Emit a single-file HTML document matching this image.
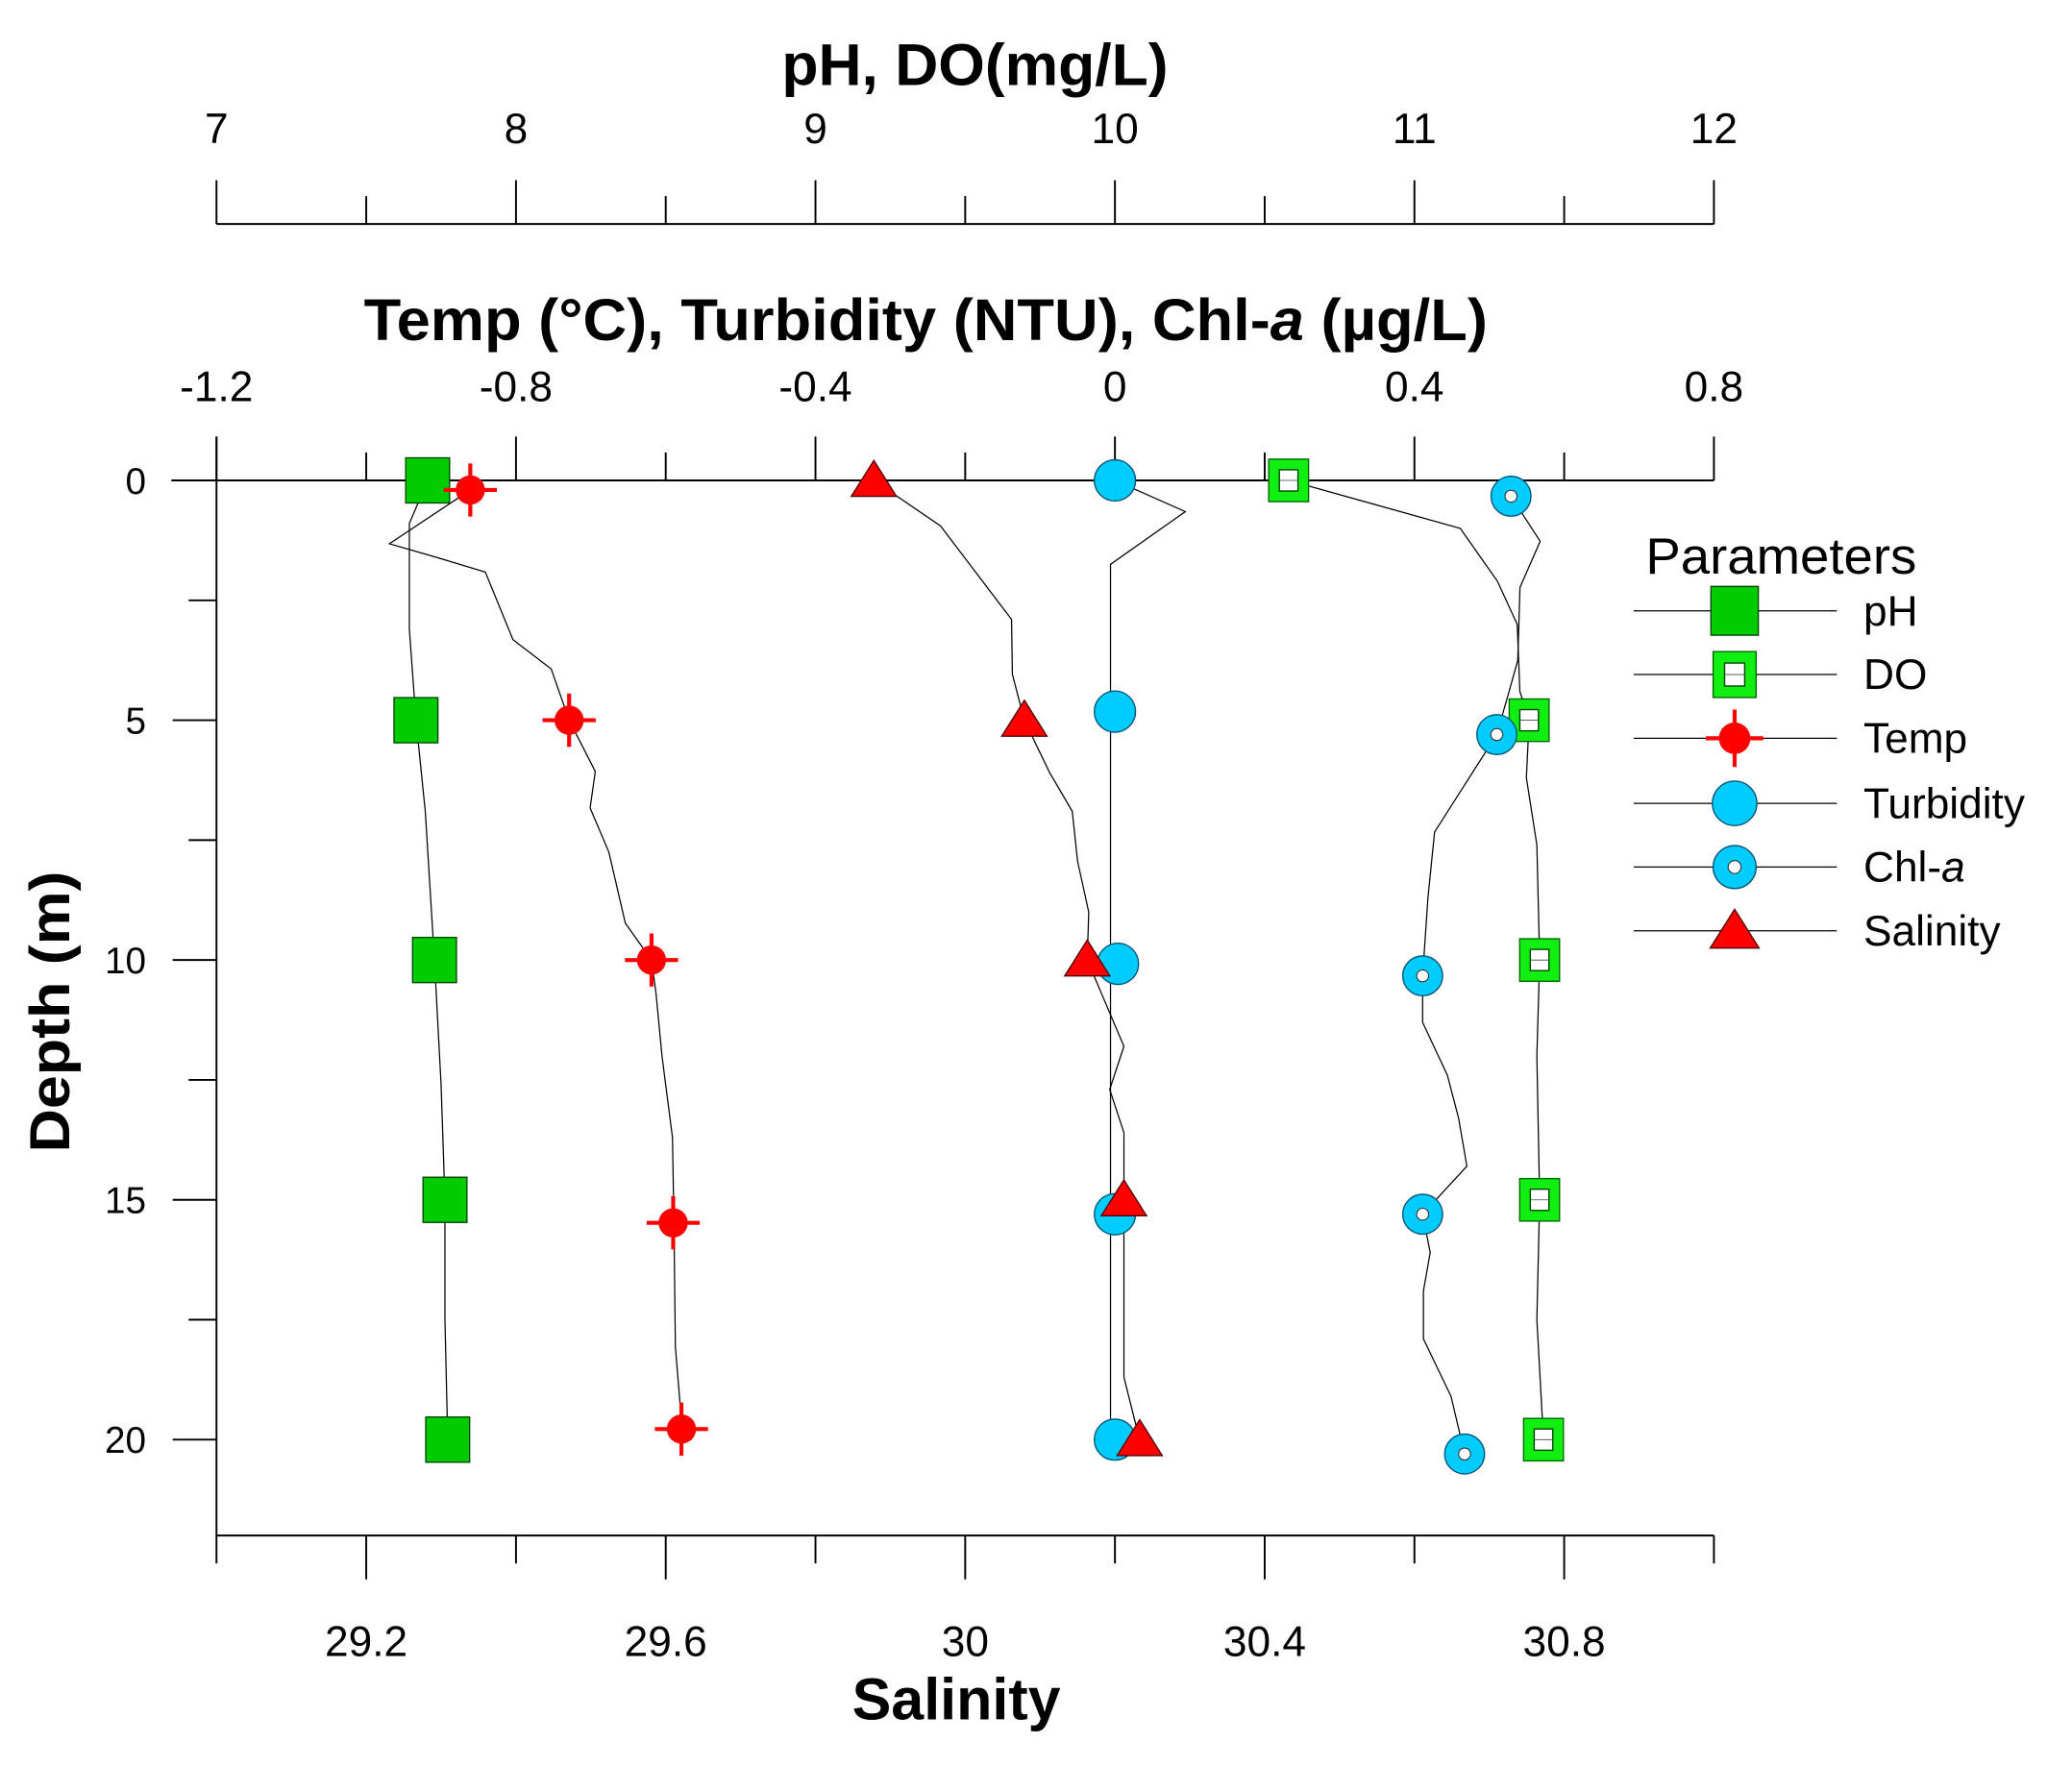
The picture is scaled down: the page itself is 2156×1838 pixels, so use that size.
<!DOCTYPE html>
<html><head><meta charset="utf-8"><style>
html,body{margin:0;padding:0;background:#fff;}
svg{display:block;}
text{font-family:"Liberation Sans",Arial,sans-serif;fill:#000;}
</style></head><body>
<svg id="chart" width="2156" height="1838" viewBox="0 0 1560 1330" preserveAspectRatio="none" xmlns="http://www.w3.org/2000/svg">
<g id="axes"></g>
<g id="lines"></g>
<g id="marks"></g>
<g id="legend"></g>
</svg>
<script>
// ---- data ----
const markerDepths = [0, 5, 10, 15, 20];
const phValues = [7.705, 7.666, 7.728, 7.763, 7.772];
const doValues = [10.58, 11.383, 11.418, 11.418, 11.431];
const tempDepths = [0.2, 5, 10, 15.48, 19.78];
const tempValues = [-0.861, -0.729, -0.619, -0.590, -0.579];
const turbDepths = [0, 4.82, 10.08, 15.3, 20];
const turbValues = [0, 0, 0.004, 0, 0];
const chlDepths = [0.33, 5.3, 10.33, 15.3, 20.3];
const chlValues = [0.529, 0.510, 0.411, 0.411, 0.467];
const salValues = [29.878, 30.079, 30.163, 30.212, 30.233];

// profile lines (depth, value)
const phProfD = [0, 0.9, 3.1, 5, 6.9, 10, 12.6, 15, 17.5, 20];
const phProfV = [7.705, 7.644, 7.644, 7.666, 7.697, 7.728, 7.75, 7.763, 7.763, 7.772];
const doProfD = [0, 1, 2.1, 3, 4.4, 5, 6.2, 7.6, 10, 12, 15, 17.5, 20];
const doProfV = [10.58, 11.153, 11.277, 11.343, 11.352, 11.383, 11.374, 11.409, 11.418, 11.409, 11.418, 11.409, 11.431];
const tempProfD = [0.2, 1.32, 1.6, 1.91, 3.32, 3.93, 5, 6.07, 6.83, 7.75, 9.23, 10, 10.69, 12.0, 13.7, 15.48, 18.07, 19.78];
const tempProfV = [-0.861, -0.969, -0.907, -0.841, -0.804, -0.753, -0.729, -0.694, -0.701, -0.676, -0.654, -0.619, -0.613, -0.605, -0.591, -0.589, -0.587, -0.578];
const turbProfD = [0, 0.65, 1.75, 4.82, 10.08, 15.3, 20];
const turbProfV = [0, 0.094, -0.006, -0.006, -0.006, -0.006, -0.006];
const chlProfD = [0.33, 1.27, 2.23, 3.75, 4.43, 5.3, 7.33, 8.7, 10.33, 11.3, 12.4, 13.3, 14.3, 15.3, 16.1, 16.9, 17.9, 19.1, 20.3];
const chlProfV = [0.529, 0.568, 0.541, 0.538, 0.526, 0.510, 0.427, 0.418, 0.411, 0.411, 0.444, 0.459, 0.470, 0.411, 0.421, 0.412, 0.412, 0.449, 0.467];
const salProfD = [0, 0.95, 2.9, 4.04, 5, 6.1, 6.9, 7.94, 9.0, 10, 11.8, 12.7, 13.6, 15, 18.7, 20];
const salProfV = [29.878, 29.967, 30.062, 30.063, 30.079, 30.113, 30.143, 30.150, 30.165, 30.163, 30.212, 30.193, 30.212, 30.212, 30.212, 30.233];

const phTicks = [7, 8, 9, 10, 11, 12];
const tempTicks = ["-1.2", "-0.8", "-0.4", "0", "0.4", "0.8"];
const salTicks = ["29.2", "29.6", "30", "30.4", "30.8"];
const depthTicks = [0, 5, 10, 15, 20];

// ---- scales ----
const X0 = 163, X1 = 1290.4;
const yD = d => 361.8 + 36.12 * d;
const xPH = v => X0 + (v - 7) * (X1 - X0) / 5;
const xT = v => X0 + (v + 1.2) * (X1 - X0) / 2;
const xS = v => X0 + (v - 29) * (X1 - X0) / 2;
const NS = "http://www.w3.org/2000/svg";
function mk(tag, attrs, parent) {
  const e = document.createElementNS(NS, tag);
  for (const k in attrs) e.setAttribute(k, attrs[k]);
  parent.appendChild(e); return e;
}
const axes = document.getElementById('axes');
const lines = document.getElementById('lines');
const marks = document.getElementById('marks');
const legend = document.getElementById('legend');
function ln(x1, y1, x2, y2, p, w) { return mk('line', {x1, y1, x2, y2, stroke: '#000', 'stroke-width': w || 1.4}, p); }
function txt(s, x, y, size, p, opts) {
  const t = mk('text', Object.assign({x, y, 'font-size': size, 'text-anchor': 'middle'}, opts || {}), p);
  t.textContent = s; return t;
}

// pH top axis
const yPH = 168.7;
let el = ln(X0, yPH, X1, yPH, axes);


for (let v = 7; v <= 12.001; v += 0.5) {
  const major = Math.abs(v - Math.round(v)) < 1e-6;
  ln(xPH(v), yPH, xPH(v), yPH - (major ? 33 : 21), axes);
}
phTicks.forEach(v => {
  const t = txt(String(v), xPH(v), 108, 32, axes);
  
  
});
el = txt('pH, DO(mg/L)', 734, 64, 44, axes, {'font-weight': 'bold', textLength: 291, lengthAdjust: 'spacingAndGlyphs'});



// temp axis (depth 0 line)
const yT = yD(0);
el = ln(129, yT, X1, yT, axes);


for (let i = 0; i <= 10; i++) {
  const v = -1.2 + 0.2 * i;
  ln(xT(v), yT, xT(v), yT - (i % 2 === 0 ? 33 : 21), axes);
}
tempTicks.forEach(s => {
  const t = txt(s, xT(parseFloat(s)), 302, 32, axes);
  
  
});
el = mk('text', {x: 697, y: 256, 'font-size': 44, 'font-weight': 'bold', 'text-anchor': 'middle', textLength: 846, lengthAdjust: 'spacingAndGlyphs'}, axes);
el.innerHTML = 'Temp (°C), Turbidity (NTU), Chl-<tspan font-style="italic">a</tspan> (µg/L)';



// depth axis
el = ln(X0, yD(0) - 33, X0, yD(22), axes);


for (let i = 0; i <= 8; i++) {
  const d = i * 2.5;
  ln(X0 - (i % 2 === 0 ? 33 : 21), yD(d), X0, yD(d), axes);
}
depthTicks.forEach(d => {
  const t = txt(String(d), 110, yD(d) + 10, 28, axes, {'text-anchor': 'end'});
  
  
});
el = txt('Depth (m)', 0, 0, 42, axes, {'font-weight': 'bold', transform: 'translate(52,762) rotate(-90)', textLength: 212, lengthAdjust: 'spacingAndGlyphs'});



// salinity bottom axis
const yB = yD(22);
el = ln(X0, yB, X1, yB, axes);


for (let i = 0; i <= 10; i++) {
  const v = 29 + 0.2 * i;
  ln(xS(v), yB, xS(v), yB + (i % 2 === 0 ? 21 : 33), axes);
}
salTicks.forEach(s => {
  const t = txt(s, xS(parseFloat(s)), 1247, 32, axes);
  
  
});
el = txt('Salinity', 720, 1295, 44, axes, {'font-weight': 'bold', textLength: 157, lengthAdjust: 'spacingAndGlyphs'});



// profile lines
function poly(D, V, fx, name) {
  const pts = D.map((d, i) => fx(V[i]).toFixed(1) + ',' + yD(d).toFixed(1)).join(' ');
  const p = mk('polyline', {points: pts, fill: 'none', stroke: '#000', 'stroke-width': 0.9}, lines);
  
  
}
poly(phProfD, phProfV, xPH, 'ph-line');
poly(doProfD, doProfV, xPH, 'do-line');
poly(tempProfD, tempProfV, xT, 'temp-line');
poly(turbProfD, turbProfV, xT, 'turbidity-line');
poly(chlProfD, chlProfV, xT, 'chla-line');
poly(salProfD, salProfV, xS, 'salinity-line');

// marker drawers
function mPH(x, y, p, s) { s = s || 1; return mk('rect', {x: x - 16.5 * s, y: y - 17 * s, width: 33 * s, height: 34 * s, fill: '#00CC00', stroke: '#004400', 'stroke-width': 1}, p); }
function mDO(x, y, p, s) {
  s = s || 1;
  const g = mk('g', {}, p);
  mk('rect', {x: x - 15 * s, y: y - 16 * s, width: 30 * s, height: 32 * s, fill: '#11EE11', stroke: '#006600', 'stroke-width': 1}, g);
  mk('rect', {x: x - 7 * s, y: y - 8 * s, width: 14 * s, height: 16 * s, fill: '#fff', stroke: '#004400', 'stroke-width': 1}, g);
  mk('line', {x1: x - 7 * s, y1: y, x2: x + 7 * s, y2: y, stroke: '#444', 'stroke-width': 0.6}, g);
  return g;
}
function mTemp(x, y, p, s) {
  s = s || 1;
  const g = mk('g', {}, p);
  mk('line', {x1: x - 20 * s, y1: y, x2: x + 20 * s, y2: y, stroke: '#FF0000', 'stroke-width': 3}, g);
  mk('line', {x1: x, y1: y - 20 * s, x2: x, y2: y + 20 * s, stroke: '#FF0000', 'stroke-width': 3}, g);
  mk('circle', {cx: x, cy: y, r: 11 * s, fill: '#FF0000'}, g);
  return g;
}
function mTurb(x, y, p, s) { s = s || 1; return mk('circle', {cx: x, cy: y, r: 15.5 * s, fill: '#00CCFF', stroke: '#005577', 'stroke-width': 1}, p); }
function mChl(x, y, p, s) {
  s = s || 1;
  const g = mk('g', {}, p);
  mk('circle', {cx: x, cy: y, r: 15 * s, fill: '#00CCFF', stroke: '#005577', 'stroke-width': 1}, g);
  mk('circle', {cx: x, cy: y, r: 4.5 * s, fill: '#fff', stroke: '#333', 'stroke-width': 0.8}, g);
  return g;
}
function mSal(x, y, p, s) {
  s = s || 1;
  return mk('polygon', {points: `${x},${y - 15 * s} ${x - 17 * s},${y + 12 * s} ${x + 17 * s},${y + 12 * s}`, fill: '#FF0000', stroke: '#550000', 'stroke-width': 1}, p);
}

markerDepths.forEach((d, i) => {
  let e = mPH(xPH(phValues[i]), yD(d), marks);
  
  
  e = mDO(xPH(doValues[i]), yD(d), marks);
  
  
});
tempDepths.forEach((d, i) => {
  const e = mTemp(xT(tempValues[i]), yD(d), marks);
  
  
});
turbDepths.forEach((d, i) => {
  const e = mTurb(xT(turbValues[i]), yD(d), marks);
  
  
});
chlDepths.forEach((d, i) => {
  const e = mChl(xT(chlValues[i]), yD(d), marks);
  
  
});
markerDepths.forEach((d, i) => {
  const e = mSal(xS(salValues[i]), yD(d), marks);
  
  
});

// legend
el = txt('Parameters', 1341, 432, 38, legend, {textLength: 204, lengthAdjust: 'spacingAndGlyphs'});


const legNames = ['pH', 'DO', 'Temp', 'Turbidity', 'Chl-a', 'Salinity'];
const legDraw = [mPH, mDO, mTemp, mTurb, mChl, mSal];
const legY = [460, 508, 556, 605, 653, 701];
legNames.forEach((n, i) => {
  const g = mk('g', {}, legend);
  
  
  mk('line', {x1: 1230, y1: legY[i], x2: 1383, y2: legY[i], stroke: '#000', 'stroke-width': 0.9}, g);
  legDraw[i](1306, legY[i], g, 1.08);
  const t = mk('text', {x: 1403, y: legY[i] + 11, 'font-size': 32}, g);
  if (n === 'Chl-a') t.innerHTML = 'Chl-<tspan font-style="italic">a</tspan>';
  else t.textContent = n;
});
</script>
</body></html>
